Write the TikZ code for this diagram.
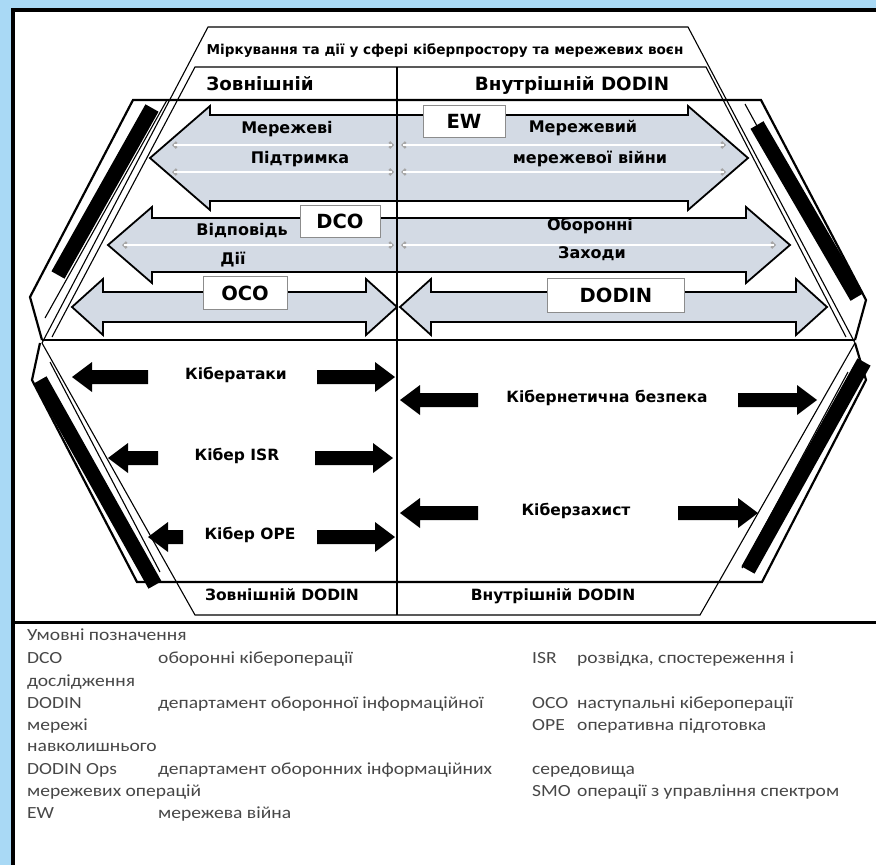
\documentclass[tikz,border=0pt]{standalone}
\usepackage{fontspec}
\setmainfont{DejaVu Sans}
\newfontfamily\legendfont[FakeStretch=1.15]{Carlito}
\usetikzlibrary{arrows.meta}
\definecolor{skyedge}{HTML}{A9D9F5}
\definecolor{shaftfill}{HTML}{D3DAE4}

% double-headed block arrow: x1, x2, y centre, shaft half, head half, head length
\newcommand\BlockDArrow[6]{%
  \filldraw[bigarrow] (#1,#3) -- ({#1+#6},{#3-#5}) -- ({#1+#6},{#3-#4})
    -- ({#2-#6},{#3-#4}) -- ({#2-#6},{#3-#5}) -- (#2,#3)
    -- ({#2-#6},{#3+#5}) -- ({#2-#6},{#3+#4}) -- ({#1+#6},{#3+#4})
    -- ({#1+#6},{#3+#5}) -- cycle;}
% solid black arrow: tail x, tip x, y
\newcommand\SolidArrow[3]{%
  \fill[solidarrow] (#1,{#3-7}) -- ({#2-20*sign(#2-#1)},{#3-7})
    -- ({#2-20*sign(#2-#1)},{#3-15}) -- (#2,#3)
    -- ({#2-20*sign(#2-#1)},{#3+15}) -- ({#2-20*sign(#2-#1)},{#3+7})
    -- (#1,{#3+7}) -- cycle;}
% faint divider inside a block arrow
\newcommand\Divider[3]{%
  \draw[black!35, line width=2.4pt, {Straight Barb[length=3pt,width=6pt]}-{Straight Barb[length=3pt,width=6pt]}] (#1,#3) -- (#2,#3);
  \draw[white, line width=1.1pt] ({#1+2},#3) -- ({#2-2},#3);}

\begin{document}
\begin{tikzpicture}[x=1pt,y=-1pt,
  bigarrow/.style={fill=shaftfill, draw=black, line width=1.8pt, line join=miter},
  solidarrow/.style={fill=black, draw=none},
  tagbox/.style={draw=black!45, fill=white, line width=0.8pt, inner sep=0,
    font=\bfseries\fontsize{19.5}{22}\selectfont},
  lbl/.style={font=\bfseries\fontsize{15.5}{18}\selectfont, anchor=mid, inner sep=0},
  arrlbl/.style={font=\bfseries\fontsize{16}{18}\selectfont, anchor=mid, inner sep=0},
  hdr/.style={font=\bfseries\fontsize{18.3}{21}\selectfont, anchor=mid, inner sep=0},
  leg/.style={font=\legendfont\fontsize{17}{20}\selectfont, text=black!72, anchor=mid west, inner sep=0},
  thinline/.style={line width=1.1pt},
  boxline/.style={line width=2.2pt},
  bar/.style={line width=15pt, line cap=butt},
]
\useasboundingbox (0,0) rectangle (876,865);
\fill[skyedge] (0,0) rectangle (876,865);
\fill[white] (13,10) rectangle (880,870);
\draw[line width=3.2pt] (13,870) -- (13,10) -- (880,10);

% outer hexagon
\draw[thinline] (208,27) -- (688,27) -- (855,343) -- (700,615) -- (195,615) -- (42,343) -- cycle;
% inner title trapezoid
\draw[thinline] (52,337) -- (195,67) -- (706,67) -- (846,337);
% upper and lower compartments
\draw[boxline, line join=miter] (42,340) -- (30,297) -- (133,100) -- (761,100) -- (866,300) -- (855,340);
\draw[boxline] (42,340) -- (855,340);
\draw[boxline, line join=miter] (40,343) -- (32,380) -- (137,582) -- (762,582) -- (866,380) -- (855,343);
% thin rails beside the bars
\draw[thinline] (167,100) -- (45,318);
\draw[thinline] (745,104) -- (852,300);
\draw[thinline] (50,362) -- (160,572);
\draw[thinline] (848,372) -- (742,568);
% slanted black bars
\draw[bar] (152,108) -- (58,275);
\draw[bar] (757,125) -- (857,297);
\draw[bar] (40,380) -- (155,585);
\draw[bar] (864,362) -- (748,570);

% separator between diagram and legend
\draw[line width=3pt] (13,622) -- (880,622);

% block arrows
\BlockDArrow{150}{748}{158}{43}{52}{60}
\Divider{172}{394}{145}
\Divider{401}{726}{145}
\Divider{172}{394}{172}
\Divider{401}{726}{172}
\BlockDArrow{108}{790}{245}{27}{38}{44}
\Divider{122}{394}{245}
\Divider{401}{776}{245}
\BlockDArrow{72}{397}{307}{15}{28}{31}
\BlockDArrow{400}{827}{307}{15}{28}{31}

% centre divider
\draw[line width=2.4pt] (397,67) -- (397,615);

% tag boxes
\node[tagbox, minimum width=82, minimum height=32] (ew) at (464,121) {EW};
\node[tagbox, minimum width=80, minimum height=32] (dco) at (340,221) {DCO};
\node[tagbox, minimum width=84, minimum height=33] (oco) at (245,293) {OCO};
\node[tagbox, minimum width=137, minimum height=34] (dodin) at (616,295) {DODIN};

% solid arrows
\SolidArrow{148}{72}{377}
\SolidArrow{317}{395}{377}
\SolidArrow{158}{108}{458}
\SolidArrow{315}{393}{458}
\SolidArrow{183}{148}{537}
\SolidArrow{317}{395}{537}
\SolidArrow{478}{400}{400}
\SolidArrow{738}{817}{400}
\SolidArrow{478}{400}{513}
\SolidArrow{678}{758}{513}

% headings
\node[font=\bfseries\fontsize{13.6}{15}\selectfont, inner sep=0, anchor=mid] (title) at (445,52)
  {Міркування та дії у сфері кіберпростору та мережевих воєн};
\node[hdr] (ext) at (260,88) {Зовнішній};
\node[hdr] (int) at (572,88) {Внутрішній DODIN};

% arrow labels
\node[arrlbl] (l1) at (287,131) {Мережеві};
\node[arrlbl] (l2) at (300,161) {Підтримка};
\node[arrlbl] (l3) at (583,130) {Мережевий};
\node[arrlbl] (l4) at (590,161) {мережевої війни};
\node[arrlbl] (l5) at (242,233) {Відповідь};
\node[arrlbl] (l6) at (233,262) {Дії};
\node[arrlbl] (l7) at (590,228) {Оборонні};
\node[arrlbl] (l8) at (592,256) {Заходи};

\node[lbl] (a1) at (236,377) {Кібератаки};
\node[lbl] (a2) at (237,458) {Кібер ISR};
\node[lbl] (a3) at (250,537) {Кібер OPE};
\node[lbl] (a4) at (607,400) {Кібернетична безпека};
\node[lbl] (a5) at (576,513) {Кіберзахист};

\node[lbl] (b1) at (282,598) {Зовнішній DODIN};
\node[lbl] (b2) at (553,598) {Внутрішній DODIN};

% legend
\node[leg] (g0) at (27,638) {Умовні позначення};
\node[leg] (g1) at (27,661) {DCO};
\node[leg] (g1t) at (158,661) {оборонні кібероперації};
\node[leg] (g2) at (532,661) {ISR};
\node[leg] (g2t) at (577,661) {розвідка, спостереження і};
\node[leg] (g3) at (27,684) {дослідження};
\node[leg] (g4) at (27,706) {DODIN};
\node[leg] (g4t) at (158,706) {департамент оборонної інформаційної};
\node[leg] (g5) at (532,706) {OCO};
\node[leg] (g5t) at (577,706) {наступальні кібероперації};
\node[leg] (g6) at (27,728) {мережі};
\node[leg] (g7) at (532,728) {OPE};
\node[leg] (g7t) at (577,728) {оперативна підготовка};
\node[leg] (g8) at (27,749) {навколишнього};
\node[leg] (g9) at (27,772) {DODIN Ops};
\node[leg] (g9t) at (158,772) {департамент оборонних інформаційних};
\node[leg] (g10) at (532,772) {середовища};
\node[leg] (g11) at (27,794) {мережевих операцій};
\node[leg] (g12) at (532,794) {SMO};
\node[leg] (g12t) at (577,794) {операції з управління спектром};
\node[leg] (g13) at (27,816) {EW};
\node[leg] (g13t) at (158,816) {мережева війна};
\end{tikzpicture}
\end{document}
